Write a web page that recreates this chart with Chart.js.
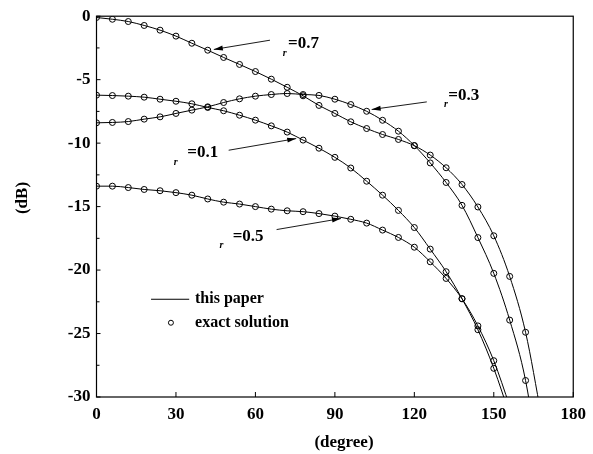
<!DOCTYPE html>
<html>
<head>
<meta charset="utf-8">
<script src="https://cdn.jsdelivr.net/npm/chart.js@4/dist/chart.umd.min.js"></script>
<style>
  body { margin: 0; background: #fff; }
  canvas { display: block; }
</style>
</head>
<body>
<canvas id="myChart" width="593" height="454"></canvas>
<script>
// angles (degree) where the exact solution is sampled
const degrees = [0, 6, 12, 18, 24, 30, 36, 42, 48, 54, 60, 66, 72, 78, 84, 90, 96, 102, 108, 114, 120, 126, 132, 138, 144, 150, 156, 162, 168];

// dB values, one per angle above
const r07 = [-0.1, -0.24, -0.42, -0.73, -1.1, -1.57, -2.13, -2.68, -3.25, -3.8, -4.36, -4.96, -5.6, -6.27, -7.03, -7.66, -8.32, -8.85, -9.32, -9.71, -10.2, -10.94, -11.94, -13.26, -15.03, -17.3, -20.5, -24.9, -31.5];
const r03 = [-8.4, -8.37, -8.3, -8.11, -7.93, -7.66, -7.4, -7.14, -6.8, -6.51, -6.3, -6.17, -6.09, -6.17, -6.24, -6.54, -6.96, -7.49, -8.2, -9.06, -10.19, -11.56, -13.1, -14.9, -17.44, -20.26, -23.94, -28.7, -36.5];
const r01 = [-6.22, -6.25, -6.3, -6.38, -6.54, -6.7, -6.9, -7.19, -7.45, -7.8, -8.19, -8.64, -9.13, -9.76, -10.4, -11.12, -11.96, -13.0, -14.1, -15.3, -16.65, -18.35, -20.13, -22.26, -24.7, -27.74, -31.4];
const r05 = [-13.39, -13.39, -13.5, -13.65, -13.75, -13.9, -14.1, -14.4, -14.65, -14.8, -15.0, -15.2, -15.33, -15.4, -15.55, -15.75, -16.0, -16.3, -16.85, -17.43, -18.2, -19.35, -20.66, -22.26, -24.4, -27.14, -30.7];

const xTicks = [0, 30, 60, 90, 120, 150, 180];
const yTicks = [-30, -25, -20, -15, -10, -5, 0];

const xTitle = '(degree)';
const yTitle = '(dB)';
const legendLabels = ['this paper', 'exact solution'];
const curveLabels = ['=0.7', '=0.3', '=0.1', '=0.5'];

// where each label sits and where its arrow points (in data units)
const notes = [
  { text: curveLabels[0], at: [72.3, -2.15], sub: [-3.3, 10], from: [65.5, -1.89], to: [44.3, -2.62] },
  { text: curveLabels[1], at: [132.8, -6.23], sub: [-2.4, 9.3], from: [124.7, -6.75], to: [103.9, -7.35] },
  { text: curveLabels[2], at: [34.3, -10.76], sub: [-11.6, 9.8], from: [49.9, -10.56], to: [75.4, -9.64] },
  { text: curveLabels[3], at: [51.4, -17.34], sub: [-11.3, 9], from: [68.0, -16.81], to: [92.3, -15.94] }
];

const serif = "'Liberation Serif', 'Times New Roman', serif";

const toPoints = (vals) => vals.map((v, i) => ({ x: degrees[i], y: v }));

const curve = (vals) => ({
  data: toPoints(vals),
  borderColor: '#000',
  borderWidth: 1,
  cubicInterpolationMode: 'monotone',
  pointStyle: 'circle',
  pointRadius: (c) => (c.raw && c.raw.y >= -30 ? 3 : 0),
  pointBorderColor: '#000',
  pointBackgroundColor: 'rgba(0,0,0,0)',
  pointBorderWidth: 1
});

const arrow = (ctx, x1, y1, x2, y2) => {
  const ang = Math.atan2(y2 - y1, x2 - x1);
  ctx.beginPath();
  ctx.moveTo(x1, y1);
  ctx.lineTo(x2, y2);
  ctx.stroke();
  ctx.beginPath();
  ctx.moveTo(x2, y2);
  ctx.lineTo(x2 - 9 * Math.cos(ang) + 2.5 * Math.sin(ang), y2 - 9 * Math.sin(ang) - 2.5 * Math.cos(ang));
  ctx.lineTo(x2 - 9 * Math.cos(ang) - 2.5 * Math.sin(ang), y2 - 9 * Math.sin(ang) + 2.5 * Math.cos(ang));
  ctx.closePath();
  ctx.fill();
};

const extras = {
  id: 'extras',
  afterDraw(chart) {
    const { ctx, chartArea: a, scales: { x, y } } = chart;
    ctx.save();
    ctx.strokeStyle = '#000';
    ctx.fillStyle = '#000';

    // frame
    ctx.lineWidth = 1.2;
    ctx.strokeRect(a.left, a.top, a.right - a.left, a.bottom - a.top);

    // inward ticks
    ctx.lineWidth = 1;
    ctx.beginPath();
    xTicks.forEach((v) => {
      const px = x.getPixelForValue(v);
      ctx.moveTo(px, a.bottom);
      ctx.lineTo(px, a.bottom - 5);
    });
    for (let v = -30; v <= 0; v += 2.5) {
      const py = y.getPixelForValue(v);
      ctx.moveTo(a.left, py);
      ctx.lineTo(a.left + (v % 5 === 0 ? 4 : 3), py);
    }
    ctx.stroke();

    // axis titles
    ctx.font = 'bold 17px ' + serif;
    ctx.textAlign = 'center';
    ctx.textBaseline = 'middle';
    ctx.fillText(xTitle, 344, 443);
    ctx.save();
    ctx.translate(23, 198);
    ctx.rotate(-Math.PI / 2);
    ctx.fillText(yTitle, 0, 0);
    ctx.restore();

    // curve labels + arrows
    notes.forEach((n) => {
      const lx = x.getPixelForValue(n.at[0]);
      const ly = y.getPixelForValue(n.at[1]);
      ctx.font = 'bold 17px ' + serif;
      ctx.textAlign = 'left';
      ctx.fillText(n.text, lx, ly);
      ctx.font = 'italic bold 10px ' + serif;
      ctx.textAlign = 'center';
      ctx.fillText('r', lx + n.sub[0], ly + n.sub[1]);
      ctx.lineWidth = 0.9;
      arrow(ctx, x.getPixelForValue(n.from[0]), y.getPixelForValue(n.from[1]),
        x.getPixelForValue(n.to[0]), y.getPixelForValue(n.to[1]));
    });

    // legend
    ctx.lineWidth = 1;
    const ly1 = y.getPixelForValue(-22.3);
    const ly2 = y.getPixelForValue(-24.15);
    ctx.beginPath();
    ctx.moveTo(x.getPixelForValue(20.6), ly1);
    ctx.lineTo(x.getPixelForValue(35), ly1);
    ctx.stroke();
    ctx.beginPath();
    ctx.arc(x.getPixelForValue(28.1), ly2, 2.5, 0, Math.PI * 2);
    ctx.stroke();
    ctx.font = 'bold 16px ' + serif;
    ctx.textAlign = 'left';
    ctx.fillText(legendLabels[0], x.getPixelForValue(37.2), ly1);
    ctx.fillText(legendLabels[1], x.getPixelForValue(37.2), ly2);
    ctx.restore();
  }
};

new Chart(document.getElementById('myChart'), {
  type: 'line',
  data: {
    datasets: [curve(r07), curve(r03), curve(r01), curve(r05)]
  },
  options: {
    responsive: false,
    animation: false,
    devicePixelRatio: 1,
    layout: { padding: { top: 16, right: 15, left: 0, bottom: 0 } },
    scales: {
      x: {
        type: 'linear',
        min: 0,
        max: 180,
        afterBuildTicks: (s) => { s.ticks = xTicks.map((v) => ({ value: v })); },
        afterFit: (s) => { s.height = 57; },
        grid: { display: false, drawTicks: false },
        border: { display: false },
        ticks: { color: '#000', padding: 7, font: { family: serif, size: 17, weight: 'bold' } }
      },
      y: {
        min: -30,
        max: 0,
        afterBuildTicks: (s) => { s.ticks = yTicks.map((v) => ({ value: v })); },
        afterFit: (s) => { s.width = 96.5; },
        grid: { display: false, drawTicks: false },
        border: { display: false },
        ticks: { color: '#000', padding: 6, font: { family: serif, size: 17, weight: 'bold' } }
      }
    },
    plugins: {
      legend: { display: false },
      tooltip: { enabled: false }
    }
  },
  plugins: [extras]
});
</script>
</body>
</html>
